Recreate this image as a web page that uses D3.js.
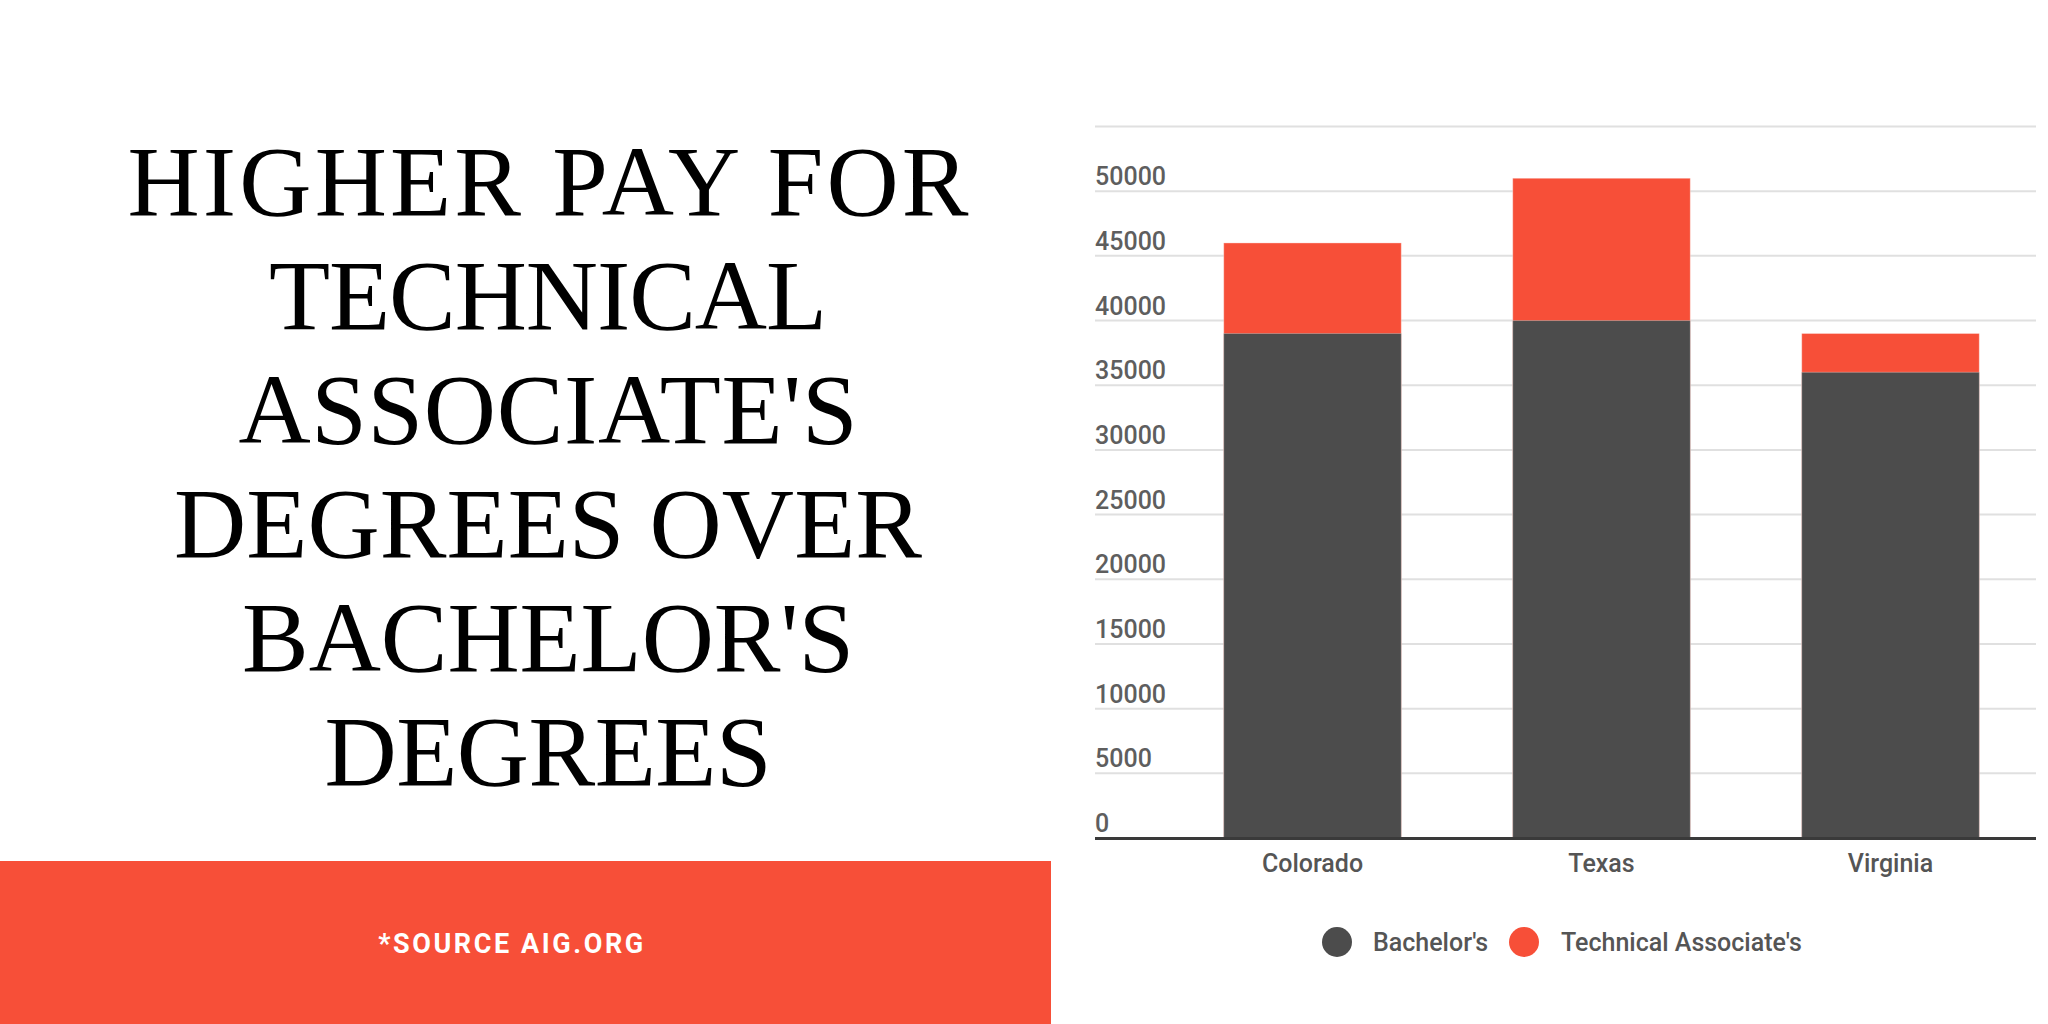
<!DOCTYPE html>
<html>
<head>
<meta charset="utf-8">
<script src="https://cdn.jsdelivr.net/npm/d3@7"></script>
<style>
  html, body { margin: 0; padding: 0; background: #ffffff; }
  svg { display: block; }
</style>
</head>
<body>
<svg id="chart" width="2048" height="1024"></svg>
<script>
// ---- data ----
const categories = ["Colorado", "Texas", "Virginia"];
const bachelors = [39000, 40000, 36000];
const technicalAssociates = [46000, 51000, 39000];
const seriesNames = ["Bachelor's", "Technical Associate's"];
const yTicks = [0, 5000, 10000, 15000, 20000, 25000, 30000, 35000, 40000, 45000, 50000, 55000];
const titleLines = ["HIGHER PAY FOR", "TECHNICAL", "ASSOCIATE'S", "DEGREES OVER", "BACHELOR'S", "DEGREES"];
const sourceText = "*SOURCE AIG.ORG";

// ---- style ----
const RED = "#f74f38";
const DARK = "#4c4c4c";
const seriesColors = [DARK, RED];

const svg = d3.select("#chart");

// ---- title block ----
const titleWidths = [841, 558, 619, 748, 612, 447];
const title = svg.append("g");
titleLines.forEach((t, i) => {
  title.append("text")
    .attr("x", 548)
    .attr("y", 215 + i * 114)
    .attr("text-anchor", "middle")
    .attr("font-family", "'Liberation Serif', serif")
    .attr("font-size", 100)
    .attr("fill", "#000")
    .attr("textLength", titleWidths[i])
    .attr("lengthAdjust", "spacing")
    .text(t);
});

// ---- source banner ----
svg.append("rect")
  .attr("x", 0).attr("y", 861)
  .attr("width", 1051).attr("height", 163)
  .attr("fill", RED);
svg.append("text")
  .attr("x", 512).attr("y", 953)
  .attr("text-anchor", "middle")
  .attr("font-family", "Roboto, sans-serif")
  .attr("font-weight", 700)
  .attr("font-size", 27)
  .attr("letter-spacing", 2.6)
  .attr("fill", "#ffffff")
  .text(sourceText);

// ---- chart ----
const gridLeft = 1095, gridRight = 2036;
const y = d3.scaleLinear().domain([0, 55000]).range([838, 126.5]);
const x = d3.scaleBand().domain(categories).range([1168, 2035])
  .paddingInner(0.3856).paddingOuter(0.1928);

// gridlines
svg.append("g").selectAll("line").data(yTicks.filter(d => d > 0)).join("line")
  .attr("x1", gridLeft).attr("x2", gridRight)
  .attr("y1", d => y(d)).attr("y2", d => y(d))
  .attr("stroke", "#e0e0e0").attr("stroke-width", 2);

// y labels (drawn above gridlines, left aligned)
svg.append("g").selectAll("text").data(yTicks.filter(d => d < 55000)).join("text")
  .attr("x", gridLeft)
  .attr("y", d => y(d) - 6)
  .attr("font-family", "Roboto, sans-serif")
  .attr("font-size", 25)
  .attr("font-weight", 500)
  .attr("fill", "#5e5e5e")
  .text(d => d);

// bars: technical associate's (behind) then bachelor's on top
const rows = categories.map((c, i) => ({ c, b: bachelors[i], t: technicalAssociates[i] }));
svg.append("g").selectAll("rect").data(rows).join("rect")
  .attr("x", d => x(d.c)).attr("width", x.bandwidth())
  .attr("y", d => y(d.t)).attr("height", d => y(0) - y(d.t))
  .attr("fill", RED)
  .attr("stroke", "#ffffff").attr("stroke-opacity", 0.35).attr("stroke-width", 1);
svg.append("g").selectAll("rect").data(rows).join("rect")
  .attr("x", d => x(d.c)).attr("width", x.bandwidth())
  .attr("y", d => y(d.b)).attr("height", d => y(0) - y(d.b))
  .attr("fill", DARK)
  .attr("stroke", "#ffffff").attr("stroke-opacity", 0.3).attr("stroke-width", 1);

// x axis baseline
svg.append("line")
  .attr("x1", gridLeft).attr("x2", gridRight)
  .attr("y1", y(0) + 0.5).attr("y2", y(0) + 0.5)
  .attr("stroke", "#3a3a3a").attr("stroke-width", 3);

// x labels
const xAxis = svg.append("g").attr("transform", `translate(0,${y(0)})`)
  .call(d3.axisBottom(x).tickSize(0).tickPadding(0));
xAxis.select(".domain").remove();
xAxis.selectAll("text")
  .attr("dy", null).attr("y", 34)
  .attr("font-family", "Roboto, sans-serif")
  .attr("font-size", 25)
  .attr("font-weight", 500)
  .attr("fill", "#555555");

// legend
const legendItems = [
  { name: seriesNames[0], color: seriesColors[0], cx: 1337, tx: 1373 },
  { name: seriesNames[1], color: seriesColors[1], cx: 1524, tx: 1561 }
];
const lg = svg.append("g");
lg.selectAll("circle").data(legendItems).join("circle")
  .attr("cx", d => d.cx).attr("cy", 942).attr("r", 15)
  .attr("fill", d => d.color);
lg.selectAll("text").data(legendItems).join("text")
  .attr("x", d => d.tx).attr("y", 951)
  .attr("font-family", "Roboto, sans-serif")
  .attr("font-size", 25)
  .attr("font-weight", 500)
  .attr("fill", "#555555")
  .text(d => d.name);
</script>
</body>
</html>
